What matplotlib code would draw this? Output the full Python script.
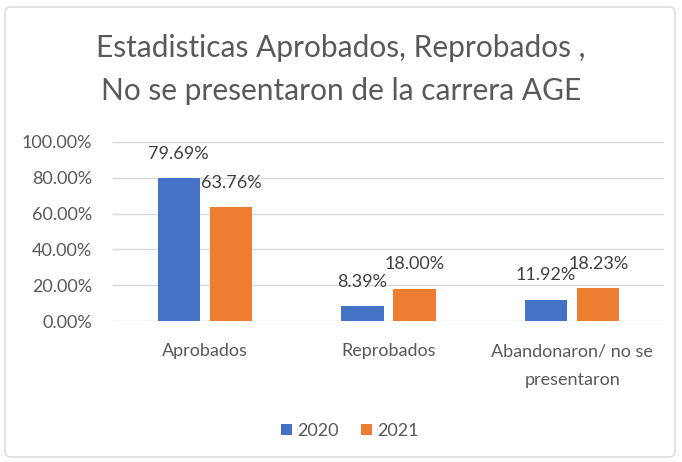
import matplotlib.pyplot as plt
from matplotlib.patches import FancyBboxPatch
from matplotlib.ticker import FuncFormatter

plt.rcParams['font.family'] = ['Lato', 'DejaVu Sans']

categorias = ["Aprobados", "Reprobados", "Abandonaron/ no se\npresentaron"]
anios = ["2020", "2021"]
valores_2020 = [0.7969, 0.0839, 0.1192]
valores_2021 = [0.6376, 0.1800, 0.1823]
colores = ["#4472C4", "#ED7D31"]
gris = "#595959"

fig = plt.figure(figsize=(6.82, 4.62), dpi=100)
ax = fig.add_axes([113 / 682, 1 - 321 / 462, (664 - 113) / 682, (321 - 142) / 462])

x = list(range(len(categorias)))
ancho = 0.23
desp = 0.142
for serie, vals, col, sgn in [(anios[0], valores_2020, colores[0], -1),
                              (anios[1], valores_2021, colores[1], 1)]:
    pos = [i + sgn * desp for i in x]
    ax.bar(pos, vals, width=ancho, color=col, label=serie, zorder=3)
    for p, v in zip(pos, vals):
        ax.annotate(f"{v * 100:.2f}%", (p, v), xytext=(0, 17.5), textcoords="offset points",
                    ha="center", va="center", fontsize=13, color="#404040", zorder=4)

ax.set_xlim(-0.5, 2.5)
ax.set_ylim(0, 1.0)
ax.set_yticks([0, 0.2, 0.4, 0.6, 0.8, 1.0])
ax.yaxis.set_major_formatter(FuncFormatter(lambda v, _: f"{v * 100:.2f}%"))
ax.grid(axis="y", color="#D9D9D9", linewidth=1, zorder=0)
ax.set_xticks(x)
ax.set_xticklabels(categorias, linespacing=1.95)
for s in ax.spines.values():
    s.set_visible(False)
ax.tick_params(axis="both", length=0, labelsize=13, colors=gris)
ax.tick_params(axis="y", pad=15)
ax.tick_params(axis="x", pad=16)

fig.text(0.5, 1 - 69.5 / 462, "Estadisticas Aprobados, Reprobados ,\nNo se presentaron de la carrera AGE",
         ha="center", va="center", fontsize=21.5, color=gris, linespacing=1.63)

leg = fig.legend(loc="center", bbox_to_anchor=(350 / 682, 1 - 431 / 462), ncol=2, frameon=False,
                 fontsize=13, handlelength=0.6, handleheight=0.6, columnspacing=1.2, handletextpad=0.3)
for t in leg.get_texts():
    t.set_color(gris)

fig.patches.append(FancyBboxPatch((5 / 682, 5 / 462), 1 - 12 / 682, 1 - 12 / 462,
                                  boxstyle="round,pad=0,rounding_size=0.01",
                                  transform=fig.transFigure, fill=False,
                                  edgecolor="#D9D9D9", linewidth=1))

fig.savefig("out.png", dpi=100)
